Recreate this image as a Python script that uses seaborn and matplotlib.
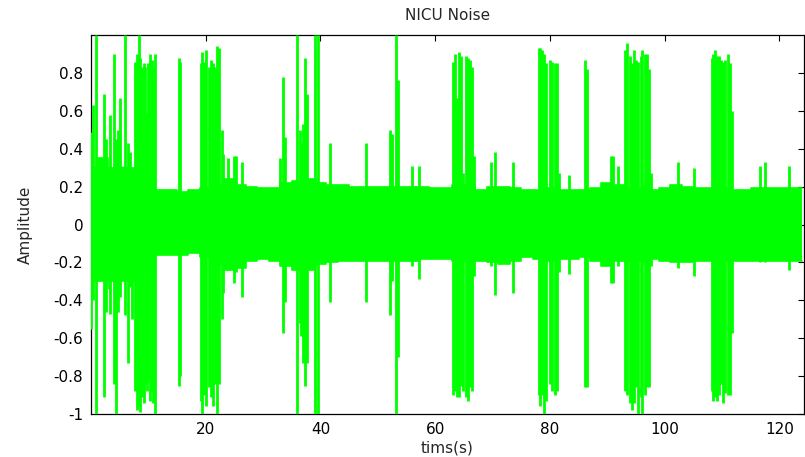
import matplotlib
matplotlib.use("Agg")
import matplotlib.pyplot as plt
import seaborn as sns
import numpy as np
import pandas as pd

# background noise envelope, read every 2 s
base_t = list(range(0, 126, 2))
base_hi = [0.30, 0.35, 0.30, 0.30, 0.30, 0.25, 0.18, 0.18, 0.17, 0.18,
           0.19, 0.21, 0.24, 0.21, 0.20, 0.19, 0.19, 0.22, 0.23, 0.24,
           0.22, 0.21, 0.21, 0.20, 0.20, 0.20, 0.20, 0.20, 0.20, 0.20,
           0.19, 0.19, 0.21, 0.21, 0.18, 0.20, 0.20, 0.19, 0.18, 0.18,
           0.19, 0.18, 0.18, 0.18, 0.19, 0.22, 0.21, 0.19, 0.19, 0.18,
           0.19, 0.21, 0.20, 0.19, 0.19, 0.19, 0.18, 0.18, 0.19, 0.19,
           0.19, 0.19, 0.19]
base_lo = [-0.30, -0.30, -0.30, -0.30, -0.30, -0.25, -0.16, -0.16, -0.16, -0.15,
           -0.17, -0.21, -0.24, -0.23, -0.19, -0.18, -0.19, -0.22, -0.24, -0.24,
           -0.21, -0.20, -0.19, -0.19, -0.19, -0.19, -0.19, -0.19, -0.19, -0.18,
           -0.18, -0.18, -0.19, -0.19, -0.19, -0.20, -0.21, -0.19, -0.17, -0.18,
           -0.19, -0.18, -0.18, -0.17, -0.19, -0.22, -0.19, -0.19, -0.19, -0.18,
           -0.19, -0.20, -0.20, -0.19, -0.19, -0.19, -0.19, -0.19, -0.19, -0.19,
           -0.19, -0.19, -0.19]

# individual spikes / burst columns: time (s), peak, trough
spike_t = [0.05, 0.4, 0.86, 1.3, 1.7, 2.2, 2.7, 3.1, 3.4, 3.95, 4.4, 4.8, 5.1, 5.6, 6.0,
           6.4, 6.8, 7.2, 7.7, 8.0, 8.3, 8.6, 8.9, 9.2, 9.5, 9.7, 10.0, 10.3, 10.6, 10.9, 11.2,
           15.3, 15.6,
           19.2, 19.4, 19.7, 20.1, 20.5, 20.9, 21.3, 21.7, 22.0, 22.4, 22.8, 23.1, 23.9, 24.9,
           25.3, 26.4,
           32.9, 33.5, 33.9, 36.0, 36.4, 36.7, 37.0, 37.3, 37.7, 39.1, 39.5, 41.7, 47.9,
           52.2, 52.5, 53.1, 53.5, 56.0, 57.2,
           63.1, 63.4, 63.8, 64.1, 64.5, 64.8, 65.3, 65.7, 66.1, 66.5, 66.8, 69.7, 70.5, 73.6,
           78.1, 78.3, 78.7, 79.0, 79.3, 80.0, 80.4, 80.9, 81.3, 81.6, 83.3,
           86.1, 86.5, 90.6, 91.0, 91.8,
           93.1, 93.5, 93.9, 94.3, 94.7, 95.1, 95.4, 95.9, 96.1, 96.6, 96.9, 97.3, 97.7,
           102.3, 105.2,
           108.2, 108.5, 108.8, 109.2, 109.5, 109.9, 110.1, 110.6, 111.0, 111.4, 111.7,
           116.7, 117.5, 121.7]
spike_hi = [0.49, 0.63, 1.0, 0.29, 0.27, 0.69, 0.45, 0.29, 0.58, 0.90, 0.45, 0.50, 0.67, 0.31, 1.0,
            0.43, 0.38, 0.29, 0.86, 0.90, 1.0, 0.88, 0.83, 0.85, 0.83, 0.59, 0.85, 0.90, 0.87, 0.83, 0.90,
            0.88, 0.86,
            0.85, 0.91, 0.86, 0.92, 0.83, 0.87, 0.85, 0.83, 0.94, 0.93, 0.50, 0.37, 0.35, 0.36,
            0.36, 0.33,
            0.35, 0.78, 0.46, 1.0, 0.50, 0.43, 0.53, 0.88, 0.69, 1.0, 1.0, 0.43, 0.43,
            0.50, 0.48, 1.0, 0.76, 0.31, 0.31,
            0.86, 0.90, 0.67, 0.91, 0.89, 0.27, 0.89, 0.88, 0.87, 0.83, 0.36, 0.33, 0.38, 0.33,
            0.93, 0.93, 0.92, 0.90, 0.85, 0.87, 0.86, 0.85, 0.85, 0.27, 0.26,
            0.87, 0.82, 0.36, 0.36, 0.31,
            0.92, 0.96, 0.89, 0.85, 0.92, 0.87, 0.86, 0.89, 0.92, 0.90, 0.90, 0.82, 0.27,
            0.33, 0.30,
            0.88, 0.90, 0.92, 0.89, 0.89, 0.87, 0.86, 0.87, 0.90, 0.85, 0.60,
            0.31, 0.33, 0.31]
spike_lo = [-0.55, -0.40, -1.0, -0.27, -0.29, -0.91, -0.46, -0.34, -0.47, -0.84, -1.0, -0.46, -0.38, -0.28, -0.48,
            -0.73, -0.33, -0.50, -0.88, -0.98, -0.96, -0.99, -0.91, -0.94, -0.84, -0.88, -0.82, -0.93, -0.88, -0.94, -1.0,
            -0.85, -0.80,
            -0.93, -1.0, -0.90, -0.96, -0.86, -0.91, -0.96, -0.84, -1.0, -0.84, -0.50, -0.36, -0.24, -0.31,
            -0.25, -0.38,
            -0.20, -0.57, -0.41, -1.0, -0.52, -0.59, -0.73, -0.85, -0.73, -1.0, -1.0, -0.41, -0.41,
            -0.48, -0.30, -1.0, -0.70, -0.22, -0.29,
            -0.90, -0.88, -0.91, -0.91, -0.85, -0.88, -0.91, -0.93, -0.86, -0.88, -0.27, -0.22, -0.37, -0.36,
            -0.90, -0.96, -0.90, -1.0, -0.93, -0.84, -0.88, -0.90, -0.88, -0.25, -0.26,
            -0.86, -0.86, -0.31, -0.31, -0.22,
            -0.88, -0.90, -0.94, -0.98, -0.94, -0.86, -1.0, -0.91, -1.0, -0.90, -0.86, -0.86, -0.22,
            -0.23, -0.27,
            -0.88, -0.93, -0.91, -0.93, -0.90, -0.84, -0.94, -0.89, -0.90, -0.90, -0.57,
            -0.20, -0.20, -0.24]

x_ticks = [20, 40, 60, 80, 100, 120]
y_ticks = [-1, -0.8, -0.6, -0.4, -0.2, 0, 0.2, 0.4, 0.6, 0.8]
y_tick_labels = ["-1", "-0.8", "-0.6", "-0.4", "-0.2", "0", "0.2", "0.4", "0.6", "0.8"]

sns.set_style("white")
plt.rcParams['font.family'] = ['DejaVu Sans']

base = pd.DataFrame({"t": base_t, "hi": base_hi, "lo": base_lo})
spikes = pd.DataFrame({"t": spike_t, "hi": spike_hi, "lo": spike_lo})

fig = plt.figure(figsize=(8.05, 4.57), dpi=100)
ax = fig.add_axes([0.1130, 0.0941, 0.8857, 0.8293])

green = "#00ff00"
ax.fill_between(base["t"], base["lo"], base["hi"], step="mid", color=green, lw=0, zorder=3)
sns.lineplot(data=base, x="t", y="hi", ax=ax, color=green, lw=1.2, drawstyle="steps-mid", zorder=3)
sns.lineplot(data=base, x="t", y="lo", ax=ax, color=green, lw=1.2, drawstyle="steps-mid", zorder=3)
ax.vlines(spikes["t"], spikes["lo"], spikes["hi"], color=green, lw=2.0, zorder=3)

ax.set_xlim(0, 124.3)
ax.set_ylim(-1, 1)
ax.set_xticks(x_ticks)
ax.set_xticklabels([str(v) for v in x_ticks])
ax.set_yticks(y_ticks)
ax.set_yticklabels(y_tick_labels)
ax.tick_params(direction="in", top=True, right=True, length=4, width=0.8,
               labelsize=11, colors="black", pad=5.5)
for s in ax.spines.values():
    s.set_color("black")
    s.set_linewidth(0.9)

ax.set_title("NICU Noise", fontsize=11, pad=11)
ax.set_xlabel("tims(s)", fontsize=11, labelpad=3)
ax.set_ylabel("Amplitude", fontsize=11, labelpad=15)

fig.savefig("out.png", dpi=100)
